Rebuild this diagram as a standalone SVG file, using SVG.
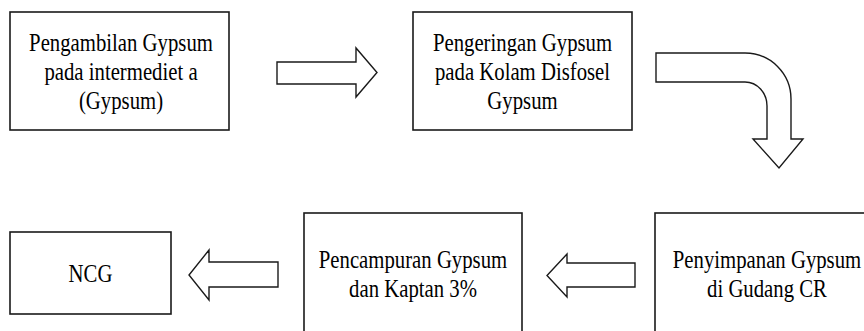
<svg xmlns="http://www.w3.org/2000/svg" width="864" height="331" viewBox="0 0 864 331">
<style>
.box{fill:#fff;stroke:#1a1a1a;stroke-width:1.6}
.arr{fill:#fff;stroke:#1a1a1a;stroke-width:1.4;stroke-linejoin:miter}
text{fill:#000;text-anchor:middle}
</style>
<rect width="864" height="331" fill="#fff"/>
<g id="connectors">
<polygon class="arr" points="277,62 356,62 356,48 377,72.5 356,97 356,84 277,84"/>
<path class="arr" d="M656,53 H745 A46,46 0 0 1 791,99 V139 H803 L779,168 L753,139 H767 V106 A22,24 0 0 0 745,82 H656 Z"/>
<polygon class="arr" points="635,263 567,263 567,254 547,275.5 567,297 567,287 635,287"/>
<polygon class="arr" points="278,262 209,262 209,250 189,275 209,300 209,287 278,287"/>
</g>
<g font-family="Liberation Serif, Times New Roman, serif" font-size="25">
<g id="n1">
<rect class="box" x="10" y="12" width="219" height="118"/>
<g transform="translate(121,0) scale(0.83,1)">
<text x="0" y="51">Pengambilan Gypsum</text>
<text x="0" y="80">pada intermediet a</text>
<text x="0" y="109">(Gypsum)</text>
</g>
</g>
<g id="n2">
<rect class="box" x="413" y="12" width="219" height="118"/>
<g transform="translate(522.5,0) scale(0.83,1)">
<text x="0" y="51">Pengeringan Gypsum</text>
<text x="0" y="80">pada Kolam Disfosel</text>
<text x="0" y="109">Gypsum</text>
</g>
</g>
<g id="n3">
<rect class="box" x="655" y="213" width="225" height="130"/>
<g transform="translate(767,0) scale(0.83,1)">
<text x="0" y="268">Penyimpanan Gypsum</text>
<text x="0" y="297">di Gudang CR</text>
</g>
</g>
<g id="n4">
<rect class="box" x="304" y="213" width="218" height="130"/>
<g transform="translate(413,0) scale(0.83,1)">
<text x="0" y="268">Pencampuran Gypsum</text>
<text x="0" y="297">dan Kaptan 3%</text>
</g>
</g>
<g id="n5">
<rect class="box" x="10" y="232" width="161" height="82"/>
<g transform="translate(90.5,0) scale(0.83,1)">
<text x="0" y="282">NCG</text>
</g>
</g>
</g>
</svg>
